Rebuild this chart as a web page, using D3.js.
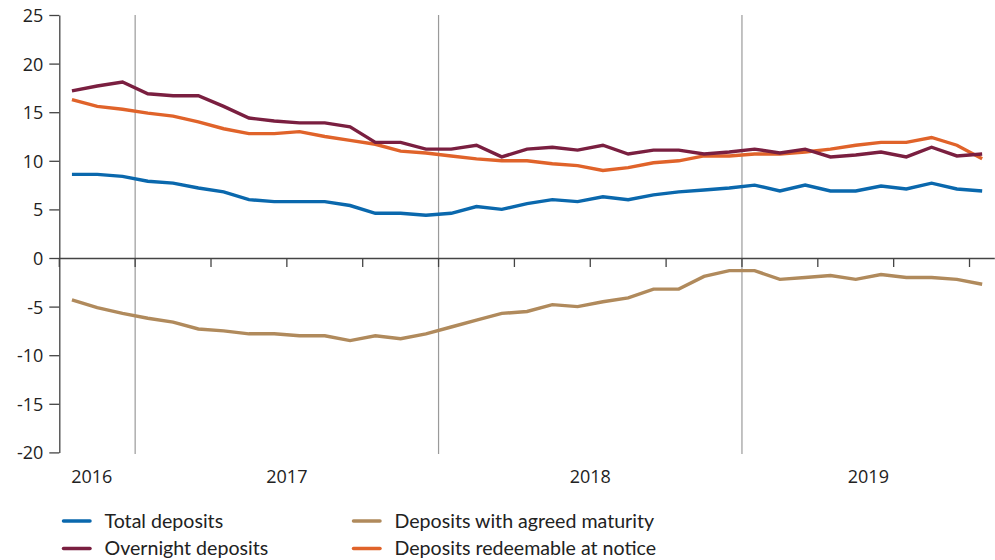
<!DOCTYPE html>
<html>
<head>
<meta charset="utf-8">
<script src="https://cdn.jsdelivr.net/npm/d3@7"></script>
<style>
  html, body { margin: 0; padding: 0; background: #fff; }
  svg { display: block; }
  text { font-family: "Open Sans", "Noto Sans", sans-serif; fill: #222; }
  .legend text { font-family: Lato, "Open Sans", sans-serif; }
</style>
</head>
<body>
<svg id="chart" width="995" height="560"></svg>
<script>
// Monthly observations, Oct 2016 – Oct 2019
const months = [
  "2016-10","2016-11","2016-12",
  "2017-01","2017-02","2017-03","2017-04","2017-05","2017-06","2017-07","2017-08","2017-09","2017-10","2017-11","2017-12",
  "2018-01","2018-02","2018-03","2018-04","2018-05","2018-06","2018-07","2018-08","2018-09","2018-10","2018-11","2018-12",
  "2019-01","2019-02","2019-03","2019-04","2019-05","2019-06","2019-07","2019-08","2019-09","2019-10"
];
const years = ["2016", "2017", "2018", "2019"];
const yTicks = [-20, -15, -10, -5, 0, 5, 10, 15, 20, 25];

const totalDeposits = [
  8.6, 8.6, 8.4, 7.9, 7.7, 7.2, 6.8, 6.0, 5.8, 5.8, 5.8, 5.4, 4.6,
  4.6, 4.4, 4.6, 5.3, 5.0, 5.6, 6.0, 5.8, 6.3, 6.0, 6.5, 6.8, 7.0,
  7.2, 7.5, 6.9, 7.5, 6.9, 6.9, 7.4, 7.1, 7.7, 7.1, 6.9
];
const overnightDeposits = [
  17.2, 17.7, 18.1, 16.9, 16.7, 16.7, 15.6, 14.4, 14.1, 13.9, 13.9, 13.5, 11.9,
  11.9, 11.2, 11.2, 11.6, 10.4, 11.2, 11.4, 11.1, 11.6, 10.7, 11.1, 11.1, 10.7,
  10.9, 11.2, 10.8, 11.2, 10.4, 10.6, 10.9, 10.4, 11.4, 10.5, 10.7
];
const agreedMaturity = [
  -4.3, -5.1, -5.7, -6.2, -6.6, -7.3, -7.5, -7.8, -7.8, -8.0, -8.0, -8.5, -8.0,
  -8.3, -7.8, -7.1, -6.4, -5.7, -5.5, -4.8, -5.0, -4.5, -4.1, -3.2, -3.2, -1.9,
  -1.3, -1.3, -2.2, -2.0, -1.8, -2.2, -1.7, -2.0, -2.0, -2.2, -2.7
];
const redeemableNotice = [
  16.3, 15.6, 15.3, 14.9, 14.6, 14.0, 13.3, 12.8, 12.8, 13.0, 12.5, 12.1, 11.7,
  11.0, 10.8, 10.5, 10.2, 10.0, 10.0, 9.7, 9.5, 9.0, 9.3, 9.8, 10.0, 10.5,
  10.5, 10.7, 10.7, 10.9, 11.2, 11.6, 11.9, 11.9, 12.4, 11.6, 10.2
];

const seriesNames = ["Total deposits", "Overnight deposits", "Deposits with agreed maturity", "Deposits redeemable at notice"];
const seriesColors = ["#0a68ad", "#7a1f40", "#b08a5c", "#e0632a"];
const seriesValues = [totalDeposits, overnightDeposits, agreedMaturity, redeemableNotice];
// drawing order (back to front)
const drawOrder = [2, 0, 3, 1];

const svg = d3.select("#chart");
const plotLeft = 59.3, plotRight = 994.8, plotTop = 15, plotBottom = 452.4;

const x = d3.scaleBand().domain(months).range([plotLeft, plotRight]).paddingInner(0).paddingOuter(0);
const y = d3.scaleLinear().domain([-20, 25]).range([plotBottom, plotTop]);
const cx = m => x(m) + x.bandwidth() / 2;

// year boundary vertical lines (at January starts)
const yearStarts = months.filter(m => m.endsWith("-01"));
svg.append("g").selectAll("line").data(yearStarts).join("line")
  .attr("x1", d => x(d)).attr("x2", d => x(d))
  .attr("y1", plotTop).attr("y2", plotBottom + 1.5)
  .attr("stroke", "#9a9a9a").attr("stroke-width", 1.2);

// x axis (zero line) with quarterly ticks
const quarterStarts = months.filter(m => ["01","04","07","10"].includes(m.slice(5)));
const xAxis = d3.axisBottom(x).tickValues(quarterStarts).tickSize(9).tickFormat("").tickSizeOuter(0);
const gx = svg.append("g").attr("transform", `translate(0,${y(0)})`).call(xAxis);
gx.selectAll(".tick").attr("transform", d => `translate(${x(d)},0)`);
gx.select(".domain").attr("d", `M${plotLeft},0.5H${plotRight}`).attr("stroke", "#444").attr("stroke-width", 1.3);
gx.selectAll(".tick line").attr("stroke", "#444").attr("stroke-width", 1.3);

// y axis
const yAxis = d3.axisLeft(y).tickValues(yTicks).tickSize(10).tickPadding(6).tickFormat(d => String(d)).tickSizeOuter(0);
const gy = svg.append("g").attr("transform", `translate(${plotLeft},0)`).call(yAxis);
gy.select(".domain").attr("stroke", "#444").attr("stroke-width", 1.3);
gy.selectAll(".tick line").attr("stroke", "#444").attr("stroke-width", 1.3);
gy.selectAll(".tick text").attr("font-size", 18).attr("font-family", "'Open Sans', sans-serif").attr("fill", "#222").attr("dy", "0.36em");

// year labels centred on each year's span (partial first year nudged left as in source)
const yearSpan = yr => {
  const ms = months.filter(m => m.startsWith(yr));
  return [x(ms[0]), x(ms[ms.length - 1]) + x.bandwidth(), ms.length];
};
svg.append("g").selectAll("text").data(years).join("text")
  .attr("x", (d, i) => { const s = yearSpan(d); const c = (s[0] + s[1]) / 2; return (i === 0 && s[2] < 12) ? c - 5.5 : c; })
  .attr("y", 483)
  .attr("text-anchor", "middle")
  .attr("font-size", 18)
  .text(d => d);

// lines
const line = d3.line().x((d, i) => cx(months[i])).y(d => y(d));
svg.append("g").selectAll("path").data(drawOrder).join("path")
  .attr("d", k => line(seriesValues[k]))
  .attr("fill", "none")
  .attr("stroke", k => seriesColors[k])
  .attr("stroke-width", 3.4)
  .attr("stroke-linejoin", "miter");

// legend
const legendPos = [[63.5, 521], [63.5, 548.5], [353.5, 521], [353.5, 548.5]];
const lg = svg.append("g").attr("class", "legend");
const items = lg.selectAll("g").data(seriesNames).join("g")
  .attr("transform", (d, i) => `translate(${legendPos[i][0]},${legendPos[i][1]})`);
items.append("line").attr("x1", 0).attr("x2", 26.5).attr("y1", 0).attr("y2", 0)
  .attr("stroke", (d, i) => seriesColors[i]).attr("stroke-width", 3.5).attr("stroke-linecap", "round");
items.append("text").attr("x", 41).attr("y", 0).attr("dy", "0.35em")
  .attr("font-size", 19.6).text(d => d);
</script>
</body>
</html>
